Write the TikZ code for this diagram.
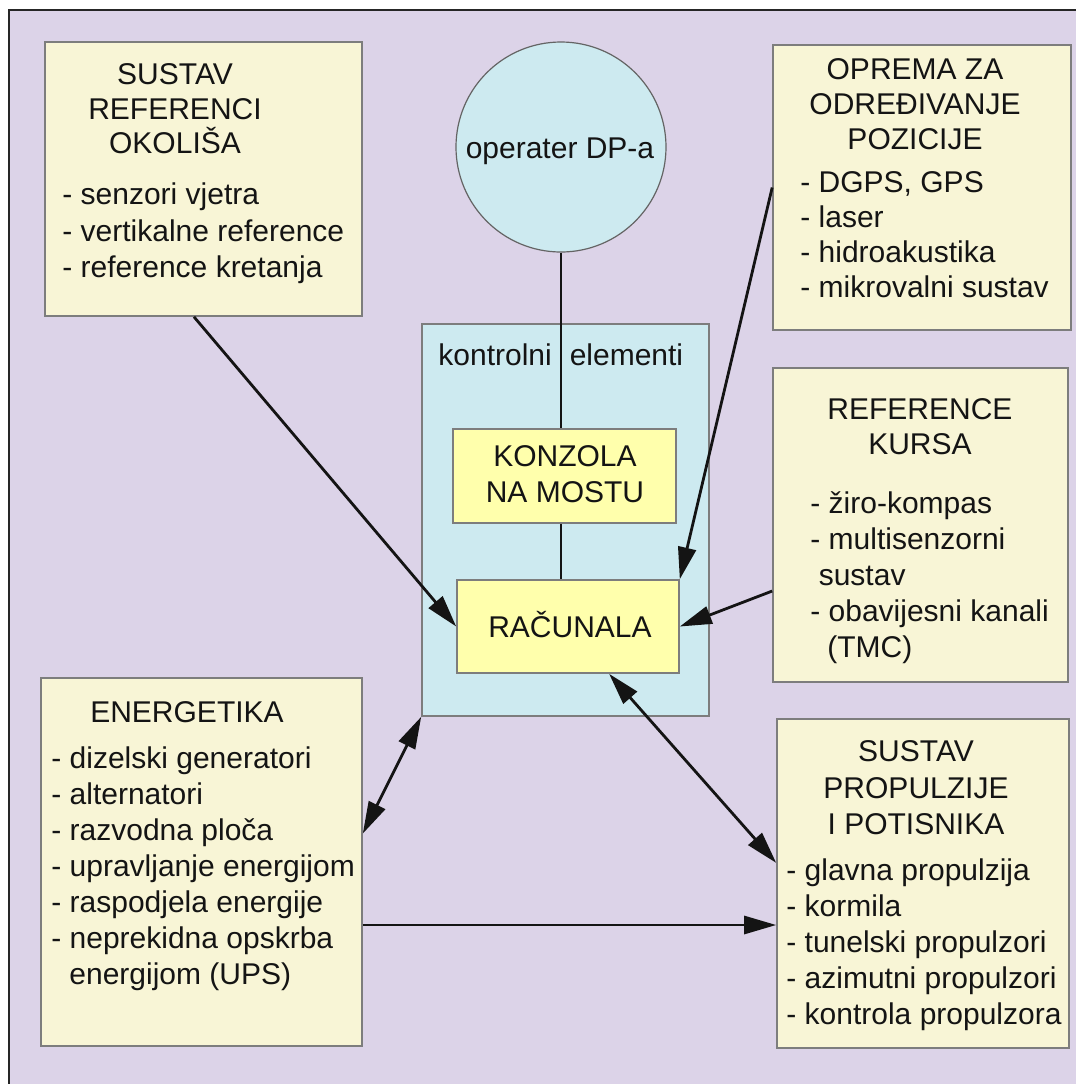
\documentclass[tikz,border=0pt]{standalone}
\usepackage{fontspec}
\setmainfont{Liberation Sans}
\usetikzlibrary{arrows.meta,fit,calc}
\definecolor{lav}{RGB}{220,211,232}
\definecolor{cream}{RGB}{248,245,214}
\definecolor{cyanbg}{RGB}{205,234,240}
\definecolor{yel}{RGB}{255,255,172}
\definecolor{edge}{RGB}{125,125,125}
\definecolor{ink}{RGB}{20,20,20}
\begin{document}
\begin{tikzpicture}[x=0.5pt,y=-0.5pt,
  infobox/.style={draw=edge, line width=0.8pt, fill=cream, inner sep=0pt},
  ctrlbox/.style={draw=edge, line width=0.8pt, fill=cyanbg, inner sep=0pt},
  unitbox/.style={draw=edge, line width=0.8pt, fill=yel, inner sep=0pt},
  opcircle/.style={circle, draw=edge!80!black, line width=0.6pt, fill=cyanbg, minimum size=105pt, inner sep=0pt},
  txt/.style={inner sep=0pt, text=ink},
  ttl/.style={txt, align=center, anchor=north},
  itm/.style={txt, align=left, anchor=north west},
  conn/.style={line width=1.4pt, draw=ink},
  arr/.style={conn, -{Triangle[length=16pt,width=9pt]}},
  darr/.style={conn, {Triangle[length=16pt,width=9pt]}-{Triangle[length=16pt,width=9pt]}}
]
\useasboundingbox (0,0) rectangle (1076,1084);
\fill[white] (0,0) rectangle (1076,1084);
\fill[lav] (9,10) rectangle (1076,1084);
\draw[line width=1pt, black!85] (9,1084) -- (9,10) -- (1076,10);

% boxes
\node[infobox, fit={(45,42) (362,316)}] (box1) {};
\node[infobox, fit={(773,45) (1071,330)}] (opr) {};
\node[infobox, fit={(773,368) (1068,682)}] (kursa) {};
\node[infobox, fit={(41,678) (362,1046)}] (ener) {};
\node[infobox, fit={(777,719) (1069,1048)}] (prop) {};
\node[ctrlbox, fit={(422,324) (709,716)}] (ctrl) {};
\node[unitbox, fit={(453,429) (676,523)}] (kon) {};
\node[unitbox, fit={(457,580) (679,673)}] (rac) {};
\node[opcircle] (op) at (561,147) {};

% connectors
\draw[conn] (op.south) -- (op.south |- kon.north);
\draw[conn] (kon.south -| op.south) -- (rac.north -| op.south);
\draw[arr] ($(box1.south west)!0.47!(box1.south east)$) -- (rac.west);
\draw[arr] (opr.west) -- (rac.north east);
\draw[arr] (kursa.204.8) -- (rac.east);
\draw[darr] (rac.-49.3) -- (prop.172);
\draw[darr] (ener.10.2) -- (ctrl.south west);
\coordinate (hy) at (0,925);
\draw[arr] (ener.east |- hy) -- (prop.west |- hy);

% texts
\node[txt, anchor=base] (optxt) at (560,158) {\fontsize{15}{17.5}\selectfont operater DP-a};
\node[txt, anchor=base west] (ctrltxt) at (438,365) {\fontsize{15}{17.5}\selectfont kontrolni\hspace{9pt}elementi};
\node[ttl, font=\fontsize{15}{18}\selectfont] (kontxt) at (565,445.5) {KONZOLA\\NA MOSTU};
\node[txt, anchor=base] (ractxt) at (570,637) {\fontsize{15}{17.5}\selectfont RAČUNALA};

\node[ttl, font=\fontsize{15}{17.25}\selectfont] (box1t) at (175,63.5) {SUSTAV\\REFERENCI\\OKOLIŠA};
\node[itm, font=\fontsize{15}{18.25}\selectfont] (box1i) at (62,182.5) {- senzori vjetra\\- vertikalne reference\\- reference kretanja};

\node[ttl, font=\fontsize{15}{17.5}\selectfont] (oprt) at (915,58.5) {OPREMA ZA\\ODREĐIVANJE\\POZICIJE};
\node[itm, font=\fontsize{15}{17.5}\selectfont] (opri) at (800,171.5) {- DGPS, GPS\\- laser\\- hidroakustika\\- mikrovalni sustav};

\node[ttl, font=\fontsize{15}{17.5}\selectfont] (kursat) at (920,398.5) {REFERENCE\\KURSA};
\node[itm, font=\fontsize{15}{18}\selectfont] (kursai) at (810,491.5) {- žiro-kompas\\- multisenzorni\\\hspace*{4.2pt}sustav\\- obavijesni kanali\\\hspace*{8.5pt}(TMC)};

\node[txt, anchor=base] (enert) at (187,722) {\fontsize{15}{17.5}\selectfont ENERGETIKA};
\node[itm, font=\fontsize{15}{18}\selectfont] (eneri) at (51,746.5) {- dizelski generatori\\- alternatori\\- razvodna ploča\\- upravljanje energijom\\- raspodjela energije\\- neprekidna opskrba\\\hspace*{9pt}energijom (UPS)};

\node[ttl, font=\fontsize{15}{18.25}\selectfont] (propt) at (916,740.5) {SUSTAV\\PROPULZIJE\\I POTISNIKA};
\node[itm, font=\fontsize{15}{18}\selectfont] (propi) at (786,858.5) {- glavna propulzija\\- kormila\\- tunelski propulzori\\- azimutni propulzori\\- kontrola propulzora};
\end{tikzpicture}
\end{document}
